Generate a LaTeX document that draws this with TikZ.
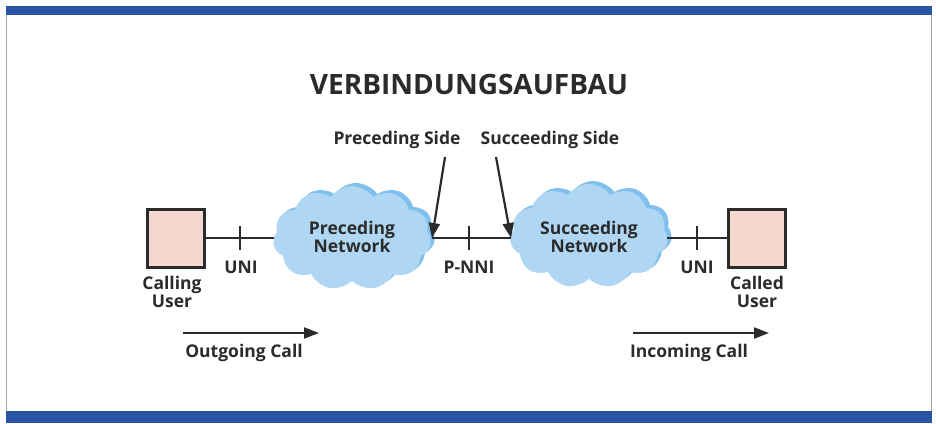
\documentclass[tikz,border=0pt]{standalone}
\usepackage{fontspec}
\setmainfont{Open Sans}
\usetikzlibrary{shapes.symbols,arrows.meta}
\definecolor{barblue}{HTML}{2A55A5}
\definecolor{userpink}{HTML}{F6D9CE}
\definecolor{cloudblue}{HTML}{AFD6F2}
\definecolor{cloudshade}{HTML}{7FC0EC}
\definecolor{inkc}{HTML}{2B2B2B}
\tikzset{
  lbl/.style={font=\bfseries\fontsize{17.5}{18}\selectfont, text=inkc, align=center, inner sep=0pt},
  userbox/.style={draw=inkc, line width=3pt, fill=userpink, minimum width=57pt, minimum height=58pt, inner sep=0pt},
  netcloud/.style={cloud, cloud puffs=11, cloud puff arc=110, aspect=1.6, fill=cloudblue, draw=none, minimum width=158pt, minimum height=104pt, inner sep=0pt},
  netshade/.style={cloud, cloud puffs=11, cloud puff arc=110, aspect=1.6, fill=cloudshade, draw=none, minimum width=158pt, minimum height=104pt, inner sep=0pt},
  wire/.style={draw=inkc, line width=2pt},
  tick/.style={draw=inkc, line width=2pt},
  pointer/.style={draw=inkc, line width=2.2pt, -{Triangle[length=15pt,width=11pt]}},
}
\begin{document}
\begin{tikzpicture}[x=1pt,y=-1pt]
\useasboundingbox (0,0) rectangle (936,423);
\fill[white] (0,0) rectangle (936,423);
% frame
\fill[barblue] (6,6) rectangle (932,15);
\fill[barblue] (6,411) rectangle (932,423);
\draw[gray!70, line width=1pt] (6.5,15) -- (6.5,411);
\draw[gray!70, line width=1pt] (931.5,15) -- (931.5,411);
% title
\node[lbl, font=\bfseries\fontsize{28}{30}\selectfont] (title) at (469,84) {VERBINDUNGSAUFBAU};
% users
\node[userbox] (calling) at (176,238) {};
\node[userbox] (called) at (757,238) {};
\node[lbl] (callinglbl) at (172,292) {Calling\\User};
\node[lbl] (calledlbl) at (757,292) {Called\\User};
% clouds
\node[netshade] (precshade) at (356,235) {};
\node[netcloud] (prec) at (352,238) {};
\node[lbl] (prectext) at (352,237) {Preceding\\Network};
\node[netshade] (succshade) at (593,233) {};
\node[netcloud] (succ) at (589,236) {};
\node[lbl] (succtext) at (589,237) {Succeeding\\Network};
% wires
\coordinate (pe) at (432,238);
\coordinate (sw) at (511,238);
\draw[wire] (calling.east) -- (prec.west |- calling.east) coordinate (pw);
\draw[wire] (pe) -- (sw);
\draw[wire] (succ.east |- called.west) -- (called.west);
% ticks
\coordinate (t1) at (240,238);
\coordinate (t2) at (469,238);
\coordinate (t3) at (697,238);
\draw[tick] ([yshift=-12]t1) -- ([yshift=12]t1);
\draw[tick] ([yshift=-12]t2) -- ([yshift=12]t2);
\draw[tick] ([yshift=-12]t3) -- ([yshift=12]t3);
\node[lbl] (uni1) at (241,267) {UNI};
\node[lbl] (pnni) at (469,267) {P-NNI};
\node[lbl] (uni2) at (697,267) {UNI};
% side labels
\node[lbl] (precside) at (397,140) {Preceding Side};
\node[lbl] (succside) at (550,140) {Succeeding Side};
\coordinate (ps0) at (445,157);
\coordinate (ss0) at (496,157);
\draw[pointer] (ps0) -- (pe);
\draw[pointer] (ss0) -- (sw);
% call arrows
\coordinate (o1) at (183,333);
\coordinate (o2) at (319,333);
\coordinate (i1) at (633,333);
\coordinate (i2) at (769,333);
\draw[pointer] (o1) -- (o2);
\draw[pointer] (i1) -- (i2);
\node[lbl] (outgoing) at (244,353) {Outgoing Call};
\node[lbl] (incoming) at (689,353) {Incoming Call};
\end{tikzpicture}
\end{document}
